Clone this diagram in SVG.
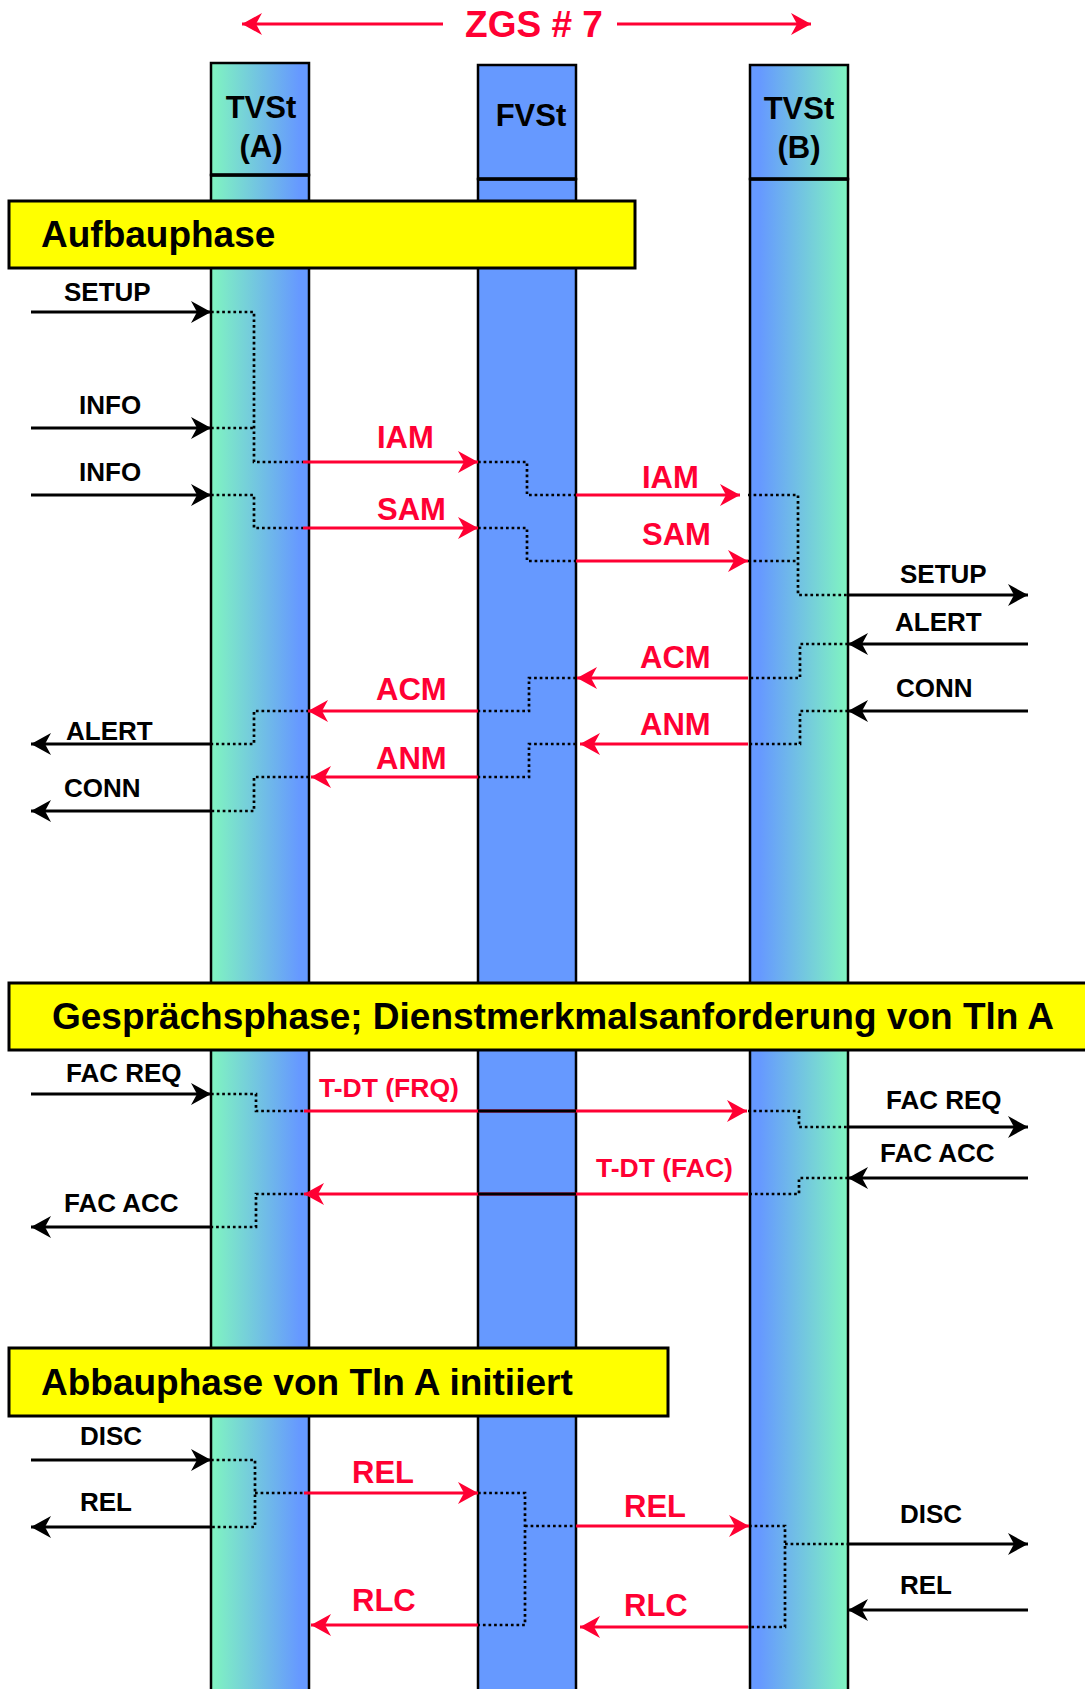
<svg xmlns="http://www.w3.org/2000/svg" width="1085" height="1689" viewBox="0 0 1085 1689">
<defs>
<linearGradient id="gA" x1="0" y1="0" x2="1" y2="0"><stop offset="0" stop-color="#80F5C0"/><stop offset="0.9" stop-color="#6699FF"/></linearGradient>
<linearGradient id="gB" x1="0" y1="0" x2="1" y2="0"><stop offset="0.1" stop-color="#6699FF"/><stop offset="1" stop-color="#80F5C0"/></linearGradient>
<marker id="ak" markerUnits="userSpaceOnUse" viewBox="0 0 20 22" markerWidth="20" markerHeight="22" refX="20" refY="11" orient="auto"><path d="M0,0 L20,11 L0,22 L6,11 Z" fill="#000"/></marker>
<marker id="ar" markerUnits="userSpaceOnUse" viewBox="0 0 20 22" markerWidth="20" markerHeight="22" refX="20" refY="11" orient="auto"><path d="M0,0 L20,11 L0,22 L6,11 Z" fill="#FF0033"/></marker>
<style>
.col{stroke:#000;stroke-width:2.5}
.hdr{font-family:"Liberation Sans",Arial,sans-serif;font-weight:bold;font-size:31px;fill:#000;text-anchor:middle}
.ph{fill:#FFFF00;stroke:#000;stroke-width:3}
.pht{font-family:"Liberation Sans",Arial,sans-serif;font-weight:bold;font-size:37px;fill:#000}
.bk{stroke:#000;stroke-width:3;fill:none;marker-end:url(#ak)}
.rd{stroke:#FF0033;stroke-width:3;fill:none;marker-end:url(#ar)}
.dt{stroke:#000;stroke-width:2.7;fill:none;stroke-dasharray:2.7 2.9}
.seg{stroke:#000;stroke-width:3}
.lb{font-family:"Liberation Sans",Arial,sans-serif;font-weight:bold;font-size:26px;fill:#000}
.lr{font-family:"Liberation Sans",Arial,sans-serif;font-weight:bold;font-size:31px;fill:#FF0033}
.lt{font-family:"Liberation Sans",Arial,sans-serif;font-weight:bold;font-size:26.5px;fill:#FF0033}
</style>
</defs>
<rect width="1085" height="1689" fill="#fff"/>

<g id="title">
<path d="M443,24 H242" stroke="#FF0033" stroke-width="3" marker-end="url(#ar)"/>
<path d="M617,24 H811" stroke="#FF0033" stroke-width="3" marker-end="url(#ar)"/>
<text x="534" y="37" font-family="Liberation Sans, Arial, sans-serif" font-weight="bold" font-size="37" fill="#FF0033" text-anchor="middle">ZGS # 7</text>
</g>

<g id="tvst-a">
<rect class="col" x="211" y="175" width="98" height="1520" fill="url(#gA)"/>
<rect class="col" x="211" y="63" width="98" height="112" fill="url(#gA)"/>
<line x1="211" y1="175" x2="309" y2="175" stroke="#000" stroke-width="3.5"/>
<text class="hdr" x="261" y="118">TVSt</text>
<text class="hdr" x="261" y="157">(A)</text>
</g>
<g id="fvst">
<rect class="col" x="478" y="179" width="98" height="1520" fill="#6699FF"/>
<rect class="col" x="478" y="65" width="98" height="114" fill="#6699FF"/>
<line x1="478" y1="179" x2="576" y2="179" stroke="#000" stroke-width="3.5"/>
<text class="hdr" x="531" y="126">FVSt</text>
</g>
<g id="tvst-b">
<rect class="col" x="750" y="179" width="98" height="1520" fill="url(#gB)"/>
<rect class="col" x="750" y="65" width="98" height="114" fill="url(#gB)"/>
<line x1="750" y1="179" x2="848" y2="179" stroke="#000" stroke-width="3.5"/>
<text class="hdr" x="799" y="119">TVSt</text>
<text class="hdr" x="799" y="158">(B)</text>
</g>

<g id="phase-aufbau">
<rect class="ph" x="9" y="201" width="626" height="67"/>
<text class="pht" x="41" y="247">Aufbauphase</text>
</g>
<g id="phase-gespraech">
<rect class="ph" x="9" y="983" width="1090" height="67"/>
<text class="pht" x="52" y="1029" font-size="37.2">Gesprächsphase; Dienstmerkmalsanforderung von Tln A</text>
</g>
<g id="phase-abbau">
<rect class="ph" x="9" y="1348" width="659" height="68"/>
<text class="pht" x="41" y="1395">Abbauphase von Tln A initiiert</text>
</g>

<g id="connectors">
<path class="dt" d="M211,312 H254 V462 H303"/>
<path class="dt" d="M211,428 H254"/>
<path class="dt" d="M211,495 H254 V528 H303"/>
<path class="dt" d="M309,711 H254 V744 H211"/>
<path class="dt" d="M309,777 H254 V811 H211"/>
<path class="dt" d="M211,1094 H256 V1111 H304"/>
<path class="dt" d="M309,1194 H256 V1227 H211"/>
<path class="dt" d="M211,1460 H255 V1527 H211 M255,1493 H304"/>
<path class="dt" d="M478,462 H527 V495 H576"/>
<path class="dt" d="M478,528 H527 V561 H576"/>
<path class="dt" d="M576,678 H529 V711 H478"/>
<path class="dt" d="M576,744 H529 V777 H478"/>
<path class="dt" d="M478,1493 H525 V1625 H478 M525,1526 H576"/>
<path class="dt" d="M748,495 H798 V595 H848 M748,561 H798"/>
<path class="dt" d="M848,644 H800 V678 H748"/>
<path class="dt" d="M848,711 H800 V744 H748"/>
<path class="dt" d="M748,1111 H799 V1127 H848"/>
<path class="dt" d="M848,1178 H799 V1194 H748"/>
<path class="dt" d="M749,1526 H785 V1627 H748 M785,1544 H848"/>
<path class="bk" d="M31,312 H211"/>
<path class="bk" d="M31,428 H211"/>
<path class="bk" d="M31,495 H211"/>
<path class="bk" d="M848,595 H1028"/>
<path class="bk" d="M1028,644 H848"/>
<path class="bk" d="M1028,711 H848"/>
<path class="bk" d="M211,744 H31"/>
<path class="bk" d="M211,811 H31"/>
<path class="bk" d="M31,1094 H211"/>
<path class="bk" d="M848,1127 H1028"/>
<path class="bk" d="M1028,1178 H848"/>
<path class="bk" d="M211,1227 H31"/>
<path class="bk" d="M31,1460 H211"/>
<path class="bk" d="M211,1527 H31"/>
<path class="bk" d="M848,1544 H1028"/>
<path class="bk" d="M1028,1610 H848"/>
<path class="rd" d="M303,462 H478"/>
<path class="rd" d="M303,528 H478"/>
<path class="rd" d="M576,495 H740"/>
<path class="rd" d="M576,561 H748"/>
<path class="rd" d="M748,678 H577"/>
<path class="rd" d="M748,744 H580"/>
<path class="rd" d="M478,711 H308"/>
<path class="rd" d="M478,777 H311"/>
<path class="rd" d="M304,1111 H747"/>
<line class="seg" x1="478" y1="1111" x2="576" y2="1111"/>
<path class="rd" d="M748,1194 H304"/>
<line class="seg" x1="478" y1="1194" x2="576" y2="1194"/>
<path class="rd" d="M304,1493 H478"/>
<path class="rd" d="M576,1526 H749"/>
<path class="rd" d="M748,1627 H580"/>
<path class="rd" d="M478,1625 H311"/>
<text class="lb" x="64" y="301" font-size="23.5">SETUP</text>
<text class="lb" x="79" y="414">INFO</text>
<text class="lb" x="79" y="481">INFO</text>
<text class="lb" x="900" y="583">SETUP</text>
<text class="lb" x="895" y="631">ALERT</text>
<text class="lb" x="896" y="697">CONN</text>
<text class="lb" x="66" y="740">ALERT</text>
<text class="lb" x="64" y="797">CONN</text>
<text class="lb" x="66" y="1082">FAC REQ</text>
<text class="lb" x="886" y="1109">FAC REQ</text>
<text class="lb" x="880" y="1162">FAC ACC</text>
<text class="lb" x="64" y="1212">FAC ACC</text>
<text class="lb" x="80" y="1445">DISC</text>
<text class="lb" x="80" y="1511">REL</text>
<text class="lb" x="900" y="1523">DISC</text>
<text class="lb" x="900" y="1594">REL</text>
<text class="lr" x="377" y="448">IAM</text>
<text class="lr" x="377" y="520">SAM</text>
<text class="lr" x="642" y="488">IAM</text>
<text class="lr" x="642" y="545">SAM</text>
<text class="lr" x="640" y="668">ACM</text>
<text class="lr" x="640" y="735">ANM</text>
<text class="lr" x="376" y="700">ACM</text>
<text class="lr" x="376" y="769">ANM</text>
<text class="lt" x="319" y="1097">T-DT (FRQ)</text>
<text class="lt" x="596" y="1177">T-DT (FAC)</text>
<text class="lr" x="352" y="1483">REL</text>
<text class="lr" x="624" y="1517">REL</text>
<text class="lr" x="624" y="1616">RLC</text>
<text class="lr" x="352" y="1611">RLC</text>
</g>
</svg>
